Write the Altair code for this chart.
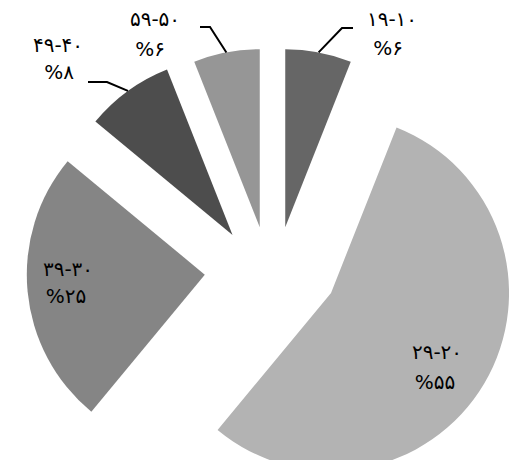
import altair as alt
import numpy as np
import pandas as pd

# ---- data ----
groups = ["۱۹-۱۰", "۲۹-۲۰", "۳۹-۳۰", "۴۹-۴۰", "۵۹-۵۰"]
shares = [6, 55, 25, 8, 6]
share_labels = ["%۶", "%۵۵", "%۲۵", "%۸", "%۶"]

# ---- style / layout ----
colors = ["#666666", "#b3b3b3", "#858585", "#4d4d4d", "#969696"]
W, H = 501, 452
CX, CY = 264.5, 262.5     # pie centre (view px)
R = 178                   # radius
EX, EY = 68, 44           # explode distance (x / y)
FONT = "DejaVu Sans"

# label anchor positions (view px): name line, percent line
name_xy = [(384, 12), (429, 345), (60, 262), (50, 38), (147, 12)]
pct_xy = [(380, 41), (427, 375), (58, 289), (51, 65), (142, 42)]
# leader lines for outside labels: (index, elbow, tail)
leaders = [(0, (334, 20), (345, 20)), (4, (202, 19), (192, 19)), (3, (99, 74), (80, 74))]

df = pd.DataFrame({"group": groups, "share": shares, "idx": list(range(len(groups)))})

pie = (
    alt.Chart(df)
    .transform_stack(stack="share", groupby=[], as_=["s0", "s1"], sort=[alt.SortField("idx")])
    .transform_calculate(mid="(datum.s0 + datum.s1) / 100 * PI")
    .transform_calculate(
        cx=f"{CX} + {EX} * sin(datum.mid)",
        cy=f"{CY} - {EY} * cos(datum.mid)",
    )
    .mark_arc(radius=R)
    .encode(
        x=alt.X("cx:Q", scale=None, stack=False),
        y=alt.Y("cy:Q", scale=None, stack=False),
        theta=alt.Theta("s0:Q", scale=alt.Scale(domain=[0, 100]), stack=False),
        theta2="s1:Q",
        color=alt.Color("group:N", scale=alt.Scale(domain=groups, range=colors), legend=None),
    )
)

# leader lines start on the arc at each slice's mid angle
cum = np.cumsum(shares)
mids = (cum - np.array(shares) / 2) / 100 * 2 * np.pi
rows = []
for i, elbow, tail in leaders:
    m = mids[i]
    sx = CX + (EX + R) * np.sin(m)
    sy = CY - (EY + R) * np.cos(m)
    for k, (px, py) in enumerate([(sx, sy), elbow, tail]):
        rows.append({"g": groups[i], "seq": k, "px": px, "py": py})
ldf = pd.DataFrame(rows)

lines = alt.Chart(ldf).mark_line(color="black", strokeWidth=2).encode(
    x=alt.X("px:Q", scale=None),
    y=alt.Y("py:Q", scale=None),
    detail="g:N",
    order="seq:Q",
)

tdf = pd.DataFrame({
    "name": groups,
    "pct": share_labels,
    "nx": [p[0] for p in name_xy],
    "ny": [p[1] for p in name_xy],
    "px": [p[0] for p in pct_xy],
    "py": [p[1] for p in pct_xy],
})

names = alt.Chart(tdf).mark_text(font=FONT, fontSize=20, color="black", align="center", baseline="middle").encode(
    x=alt.X("nx:Q", scale=None),
    y=alt.Y("ny:Q", scale=None),
    text="name:N",
)
pcts = alt.Chart(tdf).mark_text(font=FONT, fontSize=20, color="black", align="center", baseline="middle").encode(
    x=alt.X("px:Q", scale=None),
    y=alt.Y("py:Q", scale=None),
    text="pct:N",
)

chart = (
    alt.layer(pie, lines, names, pcts)
    .properties(width=W, height=H, autosize=alt.AutoSizeParams(type="none"), padding=0, background="white")
    .configure_view(stroke=None)
)

chart.save("out.html", embed_options={"renderer": "svg", "actions": False})
